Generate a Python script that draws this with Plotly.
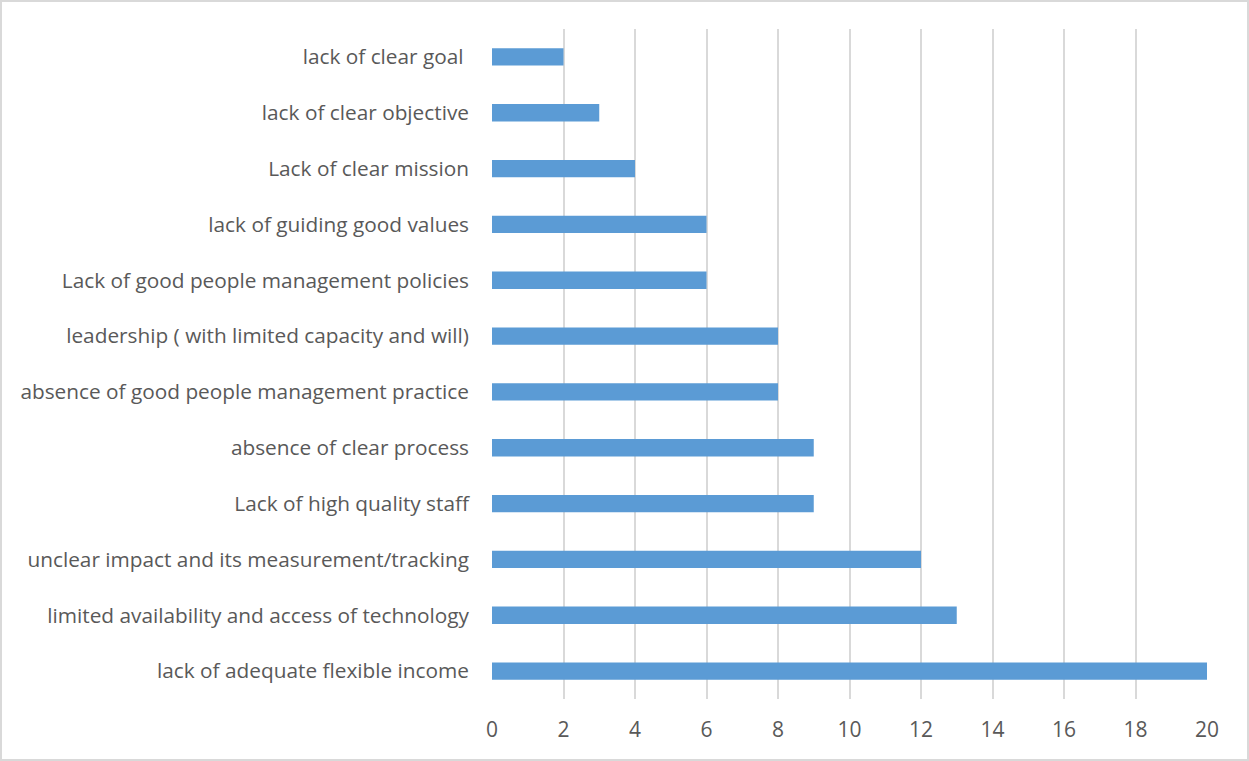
import plotly.graph_objects as go

# Barriers, listed from bottom to top
barriers = [
    "lack of adequate flexible income",
    "limited availability and access of technology",
    "unclear impact and its measurement/tracking",
    "Lack of high quality staff",
    "absence of clear process",
    "absence of good people management practice",
    "leadership ( with limited capacity and will)",
    "Lack of good people management policies",
    "lack of guiding good values",
    "Lack of clear mission",
    "lack of clear objective",
    "lack of clear goal\u00a0",
]
counts = [20, 13, 12, 9, 9, 8, 8, 6, 6, 4, 3, 2]
x_ticks = list(range(0, 21, 2))

W, H = 1249, 761
ML, MR, MT, MB = 492, 42, 29, 62
PW, PH = W - ML - MR, H - MT - MB

fig = go.Figure(
    go.Bar(
        x=counts,
        y=barriers,
        orientation="h",
        marker=dict(color="#5b9bd5", line=dict(width=0)),
    )
)

fig.update_layout(
    width=W,
    height=H,
    margin=dict(l=ML, r=MR, t=MT, b=MB, autoexpand=False),
    paper_bgcolor="white",
    plot_bgcolor="white",
    bargap=0.69,
    showlegend=False,
    font=dict(family="Open Sans", size=21, color="#595959"),
    xaxis=dict(
        range=[0, 20],
        tickvals=x_ticks,
        showgrid=True,
        gridcolor="#d9d9d9",
        gridwidth=1.5,
        zeroline=False,
        showline=False,
        ticks="",
        ticklabelstandoff=16,
        tickfont=dict(size=21, color="#595959"),
        fixedrange=True,
    ),
    yaxis=dict(
        showgrid=False,
        zeroline=False,
        showline=False,
        ticks="",
        ticklabelstandoff=22,
        tickfont=dict(size=20.8, color="#595959"),
        fixedrange=True,
    ),
)

# Light frame around the whole chart
fig.add_shape(
    type="rect",
    xref="paper",
    yref="paper",
    x0=(-ML + 1) / PW,
    x1=(W - ML - 1) / PW,
    y0=(-MB + 1) / PH,
    y1=(H - MB - 1) / PH,
    line=dict(color="#d9d9d9", width=2),
    fillcolor="rgba(0,0,0,0)",
    layer="below",
)

fig.write_html("out.html")
